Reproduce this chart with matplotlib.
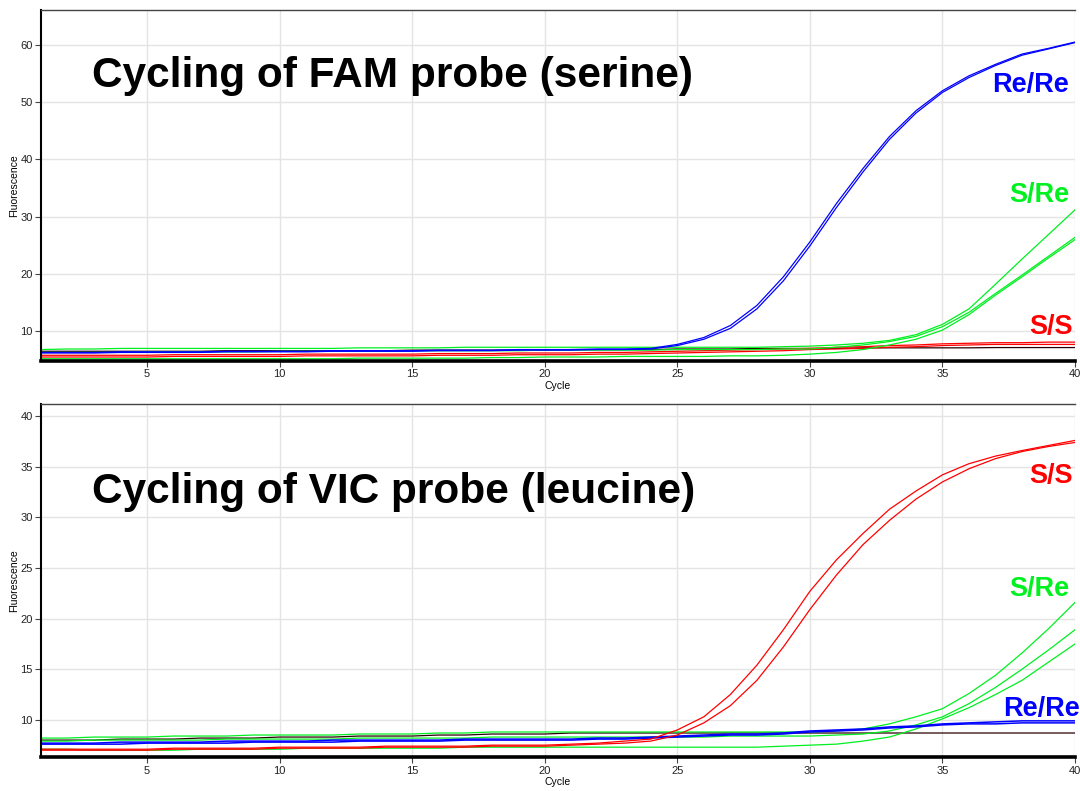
import numpy as np
import matplotlib
matplotlib.use("Agg")
import matplotlib.pyplot as plt

plt.rcParams['font.family'] = ['Liberation Sans', 'DejaVu Sans']

# ===== DATA =====
cycles = np.arange(1, 41)

# FAM channel (serine allele)
fam_rere_a = [6.3, 6.3, 6.3, 6.4, 6.4, 6.4, 6.4, 6.5, 6.5, 6.5,
              6.5, 6.6, 6.6, 6.6, 6.6, 6.7, 6.7, 6.7, 6.8, 6.8,
              6.8, 6.9, 6.9, 7.0, 7.7, 8.9, 11.0, 14.5, 19.5, 25.6,
              32.3, 38.4, 44.0, 48.5, 52.0, 54.6, 56.6, 58.4, 59.4, 60.5]
fam_rere_b = [6.2, 6.2, 6.2, 6.3, 6.3, 6.3, 6.3, 6.4, 6.4, 6.4,
              6.4, 6.5, 6.5, 6.5, 6.5, 6.6, 6.6, 6.6, 6.7, 6.7,
              6.7, 6.8, 6.8, 6.9, 7.5, 8.6, 10.5, 13.9, 18.8, 24.9,
              31.6, 37.8, 43.5, 48.1, 51.7, 54.3, 56.4, 58.2, 59.3, 60.4]
fam_sre_a = [6.8, 6.9, 6.9, 7.0, 7.0, 7.0, 7.0, 7.0, 7.0, 7.0,
             7.0, 7.0, 7.1, 7.1, 7.1, 7.1, 7.2, 7.2, 7.2, 7.2,
             7.2, 7.2, 7.2, 7.2, 7.2, 7.2, 7.2, 7.2, 7.3, 7.4,
             7.6, 7.9, 8.4, 9.4, 11.2, 13.9, 18.2, 22.6, 26.9, 31.2]
fam_sre_b = [6.3, 6.3, 6.3, 6.3, 6.4, 6.4, 6.4, 6.4, 6.4, 6.5,
             6.5, 6.5, 6.5, 6.5, 6.6, 6.6, 6.6, 6.6, 6.6, 6.7,
             6.7, 6.7, 6.7, 6.7, 6.8, 6.8, 6.8, 6.8, 6.9, 6.9,
             7.2, 7.6, 8.2, 9.1, 10.8, 13.3, 16.6, 19.8, 23.1, 26.4]
fam_sre_c = [5.2, 5.2, 5.2, 5.2, 5.2, 5.2, 5.2, 5.2, 5.2, 5.2,
             5.2, 5.2, 5.3, 5.3, 5.3, 5.3, 5.3, 5.4, 5.4, 5.5,
             5.5, 5.5, 5.6, 5.6, 5.6, 5.6, 5.7, 5.7, 5.8, 6.0,
             6.3, 6.8, 7.6, 8.6, 10.2, 12.9, 16.3, 19.5, 22.8, 26.0]
fam_ss_a = [5.8, 5.8, 5.8, 5.8, 5.8, 5.9, 5.9, 5.9, 5.9, 5.9,
            6.0, 6.0, 6.0, 6.0, 6.0, 6.1, 6.1, 6.1, 6.2, 6.2,
            6.2, 6.3, 6.3, 6.4, 6.5, 6.6, 6.7, 6.8, 6.9, 7.0,
            7.2, 7.3, 7.5, 7.6, 7.8, 7.9, 8.0, 8.0, 8.1, 8.1]
fam_ss_b = [5.5, 5.5, 5.5, 5.5, 5.5, 5.6, 5.6, 5.6, 5.6, 5.6,
            5.7, 5.7, 5.7, 5.7, 5.7, 5.8, 5.8, 5.8, 5.9, 5.9,
            5.9, 6.0, 6.0, 6.1, 6.2, 6.3, 6.4, 6.5, 6.6, 6.8,
            6.9, 7.0, 7.2, 7.3, 7.5, 7.6, 7.7, 7.7, 7.7, 7.7]
fam_ntc = [6.5, 6.5, 6.5, 6.5, 6.5, 6.5, 6.5, 6.6, 6.6, 6.6,
           6.6, 6.6, 6.6, 6.6, 6.7, 6.7, 6.7, 6.7, 6.7, 6.7,
           6.8, 6.8, 6.8, 6.8, 6.9, 6.9, 6.9, 7.0, 7.0, 7.0,
           7.0, 7.1, 7.1, 7.1, 7.1, 7.1, 7.15, 7.15, 7.15, 7.15]

# VIC channel (leucine allele)
vic_ss_a = [7.1, 7.1, 7.1, 7.1, 7.1, 7.2, 7.2, 7.2, 7.2, 7.3,
            7.3, 7.3, 7.3, 7.4, 7.4, 7.4, 7.4, 7.5, 7.5, 7.5,
            7.6, 7.7, 7.9, 8.1, 9.0, 10.3, 12.5, 15.4, 18.9, 22.7,
            25.8, 28.4, 30.8, 32.6, 34.2, 35.3, 36.05, 36.6, 37.1, 37.6]
vic_ss_b = [7.0, 7.0, 7.0, 7.0, 7.0, 7.1, 7.1, 7.1, 7.1, 7.2,
            7.2, 7.2, 7.2, 7.3, 7.3, 7.3, 7.3, 7.4, 7.4, 7.4,
            7.5, 7.6, 7.7, 7.9, 8.5, 9.7, 11.4, 13.9, 17.2, 20.9,
            24.3, 27.3, 29.7, 31.8, 33.5, 34.8, 35.8, 36.5, 37.0, 37.4]
vic_sre_a = [8.2, 8.2, 8.3, 8.3, 8.3, 8.4, 8.4, 8.4, 8.5, 8.5,
             8.5, 8.5, 8.6, 8.6, 8.6, 8.7, 8.7, 8.8, 8.8, 8.8,
             8.8, 8.8, 8.8, 8.8, 8.8, 8.8, 8.8, 8.8, 8.8, 8.8,
             8.9, 9.1, 9.6, 10.3, 11.1, 12.6, 14.4, 16.6, 19.0, 21.6]
vic_sre_b = [7.9, 7.9, 8.0, 8.0, 8.0, 8.0, 8.0, 8.1, 8.1, 8.1,
             8.1, 8.1, 8.2, 8.2, 8.2, 8.2, 8.2, 8.3, 8.3, 8.3,
             8.3, 8.3, 8.3, 8.3, 8.3, 8.3, 8.4, 8.4, 8.4, 8.4,
             8.5, 8.6, 8.9, 9.5, 10.3, 11.6, 13.2, 15.0, 16.9, 18.9]
vic_sre_c = [7.1, 7.1, 7.0, 7.0, 7.0, 7.0, 7.1, 7.1, 7.1, 7.1,
             7.2, 7.2, 7.2, 7.2, 7.2, 7.2, 7.3, 7.3, 7.3, 7.3,
             7.3, 7.3, 7.3, 7.3, 7.3, 7.3, 7.3, 7.3, 7.4, 7.5,
             7.6, 7.9, 8.3, 9.1, 10.1, 11.2, 12.5, 13.9, 15.7, 17.5]
vic_rere_a = [7.7, 7.7, 7.7, 7.8, 7.8, 7.8, 7.8, 7.9, 7.9, 7.9,
              7.9, 8.0, 8.0, 8.0, 8.0, 8.0, 8.1, 8.1, 8.1, 8.1,
              8.1, 8.2, 8.2, 8.3, 8.4, 8.5, 8.6, 8.6, 8.7, 8.9,
              9.0, 9.1, 9.3, 9.4, 9.6, 9.7, 9.8, 9.9, 9.9, 9.9]
vic_rere_b = [7.6, 7.6, 7.6, 7.6, 7.7, 7.7, 7.7, 7.7, 7.8, 7.8,
              7.8, 7.8, 7.9, 7.9, 7.9, 7.9, 8.0, 8.0, 8.0, 8.0,
              8.0, 8.1, 8.1, 8.2, 8.3, 8.4, 8.5, 8.5, 8.6, 8.8,
              8.9, 9.0, 9.2, 9.3, 9.5, 9.6, 9.6, 9.7, 9.7, 9.7]
vic_ntc = [8.0, 8.0, 8.0, 8.1, 8.1, 8.1, 8.2, 8.2, 8.2, 8.3,
           8.3, 8.3, 8.4, 8.4, 8.4, 8.5, 8.5, 8.6, 8.6, 8.6,
           8.7, 8.7, 8.7, 8.7, 8.7, 8.7, 8.7, 8.7, 8.7, 8.7,
           8.7, 8.7, 8.7, 8.7, 8.7, 8.7, 8.7, 8.7, 8.7, 8.7]

BLUE = "#0000ff"
GREEN = "#00f020"
RED = "#ff0000"
NTC = "#2a0000"


def style_axes(ax, ylim, yticks):
    ax.set_xlim(1, 40)
    ax.set_ylim(*ylim)
    ax.set_xticks([5, 10, 15, 20, 25, 30, 35, 40])
    ax.set_yticks(yticks)
    ax.grid(True, color="#e4e4e4", lw=1.0)
    ax.set_axisbelow(True)
    ax.tick_params(direction="out", length=4, width=0.8, color="#444444",
                   labelsize=8, labelcolor="#222222", pad=2)
    ax.spines["right"].set_visible(False)
    ax.spines["top"].set_color("#444444")
    ax.spines["top"].set_linewidth(1.0)
    ax.spines["left"].set_linewidth(1.5)
    ax.spines["bottom"].set_linewidth(2.6)
    ax.set_xlabel("Cycle", fontsize=7.5, labelpad=1)
    ax.set_ylabel("Fluorescence", fontsize=7.5, labelpad=1)


fig = plt.figure(figsize=(10.8, 7.91), dpi=100)
ax1 = fig.add_axes([0.038, 0.5436, 0.9574, 0.4438])
ax2 = fig.add_axes([0.038, 0.0426, 0.9574, 0.4467])

# ===== FAM =====
ax1.plot(cycles, fam_ntc, color=NTC, lw=0.9)
for s in (fam_ss_a, fam_ss_b):
    ax1.plot(cycles, s, color=RED, lw=0.9)
for s in (fam_sre_a, fam_sre_b, fam_sre_c):
    ax1.plot(cycles, s, color=GREEN, lw=0.9)
for s in (fam_rere_a, fam_rere_b):
    ax1.plot(cycles, s, color=BLUE, lw=0.9)
style_axes(ax1, (4.8, 66.1), [10, 20, 30, 40, 50, 60])

ax1.text(0.0493, 0.7806, "Cycling of FAM probe (serine)", transform=ax1.transAxes,
         fontsize=30.5, fontweight="bold", va="baseline", ha="left")
ax1.text(39.75, 51.7, "Re/Re", color=BLUE, fontsize=19.5, fontweight="bold",
         ha="right", va="baseline")
ax1.text(39.8, 32.6, "S/Re", color=GREEN, fontsize=19.5, fontweight="bold",
         ha="right", va="baseline")
ax1.text(39.9, 9.5, "S/S", color=RED, fontsize=19.5, fontweight="bold",
         ha="right", va="baseline")

# ===== VIC =====
ax2.plot(cycles, vic_ntc, color=NTC, lw=0.9)
for s in (vic_sre_a, vic_sre_b, vic_sre_c):
    ax2.plot(cycles, s, color=GREEN, lw=0.9)
for s in (vic_rere_a, vic_rere_b):
    ax2.plot(cycles, s, color=BLUE, lw=1.1)
for s in (vic_ss_a, vic_ss_b):
    ax2.plot(cycles, s, color=RED, lw=0.9)
style_axes(ax2, (6.3, 41.2), [10, 15, 20, 25, 30, 35, 40])

ax2.text(0.0493, 0.719, "Cycling of VIC probe (leucine)", transform=ax2.transAxes,
         fontsize=30.5, fontweight="bold", va="baseline", ha="left")
ax2.text(39.9, 33.4, "S/S", color=RED, fontsize=19.5, fontweight="bold",
         ha="right", va="baseline")
ax2.text(39.8, 22.2, "S/Re", color=GREEN, fontsize=19.5, fontweight="bold",
         ha="right", va="baseline")
ax2.text(37.3, 10.4, "Re/Re", color=BLUE, fontsize=19.5, fontweight="bold",
         ha="left", va="baseline", clip_on=False)

fig.savefig("out.png", dpi=100)
